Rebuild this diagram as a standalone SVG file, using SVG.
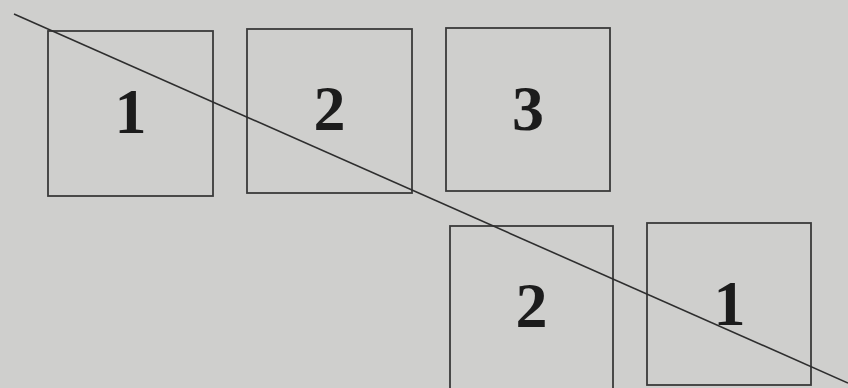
<svg xmlns="http://www.w3.org/2000/svg" width="848" height="388" viewBox="0 0 848 388">
<style>
.box{fill:none;stroke:#3a3a3a;stroke-width:1.8}
.num{font-family:"Liberation Serif","Times New Roman",serif;font-weight:bold;font-size:64px;fill:#1c1c1c;text-anchor:middle}
.conn{stroke:#2e2e2e;stroke-width:1.6;fill:none}
</style>
<rect x="0" y="0" width="848" height="388" fill="#cfcfcd"/>
<g id="node-top-1"><rect class="box" x="48" y="31" width="165" height="165"/><text class="num" x="130.5" y="133">1</text></g>
<g id="node-top-2"><rect class="box" x="247" y="29" width="165" height="164"/><text class="num" x="329.5" y="130">2</text></g>
<g id="node-top-3"><rect class="box" x="446" y="28" width="164" height="163"/><text class="num" x="528" y="130">3</text></g>
<g id="node-bottom-2"><rect class="box" x="450" y="226" width="163" height="170"/><text class="num" x="531.5" y="327">2</text></g>
<g id="node-bottom-1"><rect class="box" x="647" y="223" width="164" height="162"/><text class="num" x="729.5" y="325">1</text></g>
<g id="connectors"><line class="conn" x1="14" y1="14" x2="848" y2="383"/></g>
</svg>
